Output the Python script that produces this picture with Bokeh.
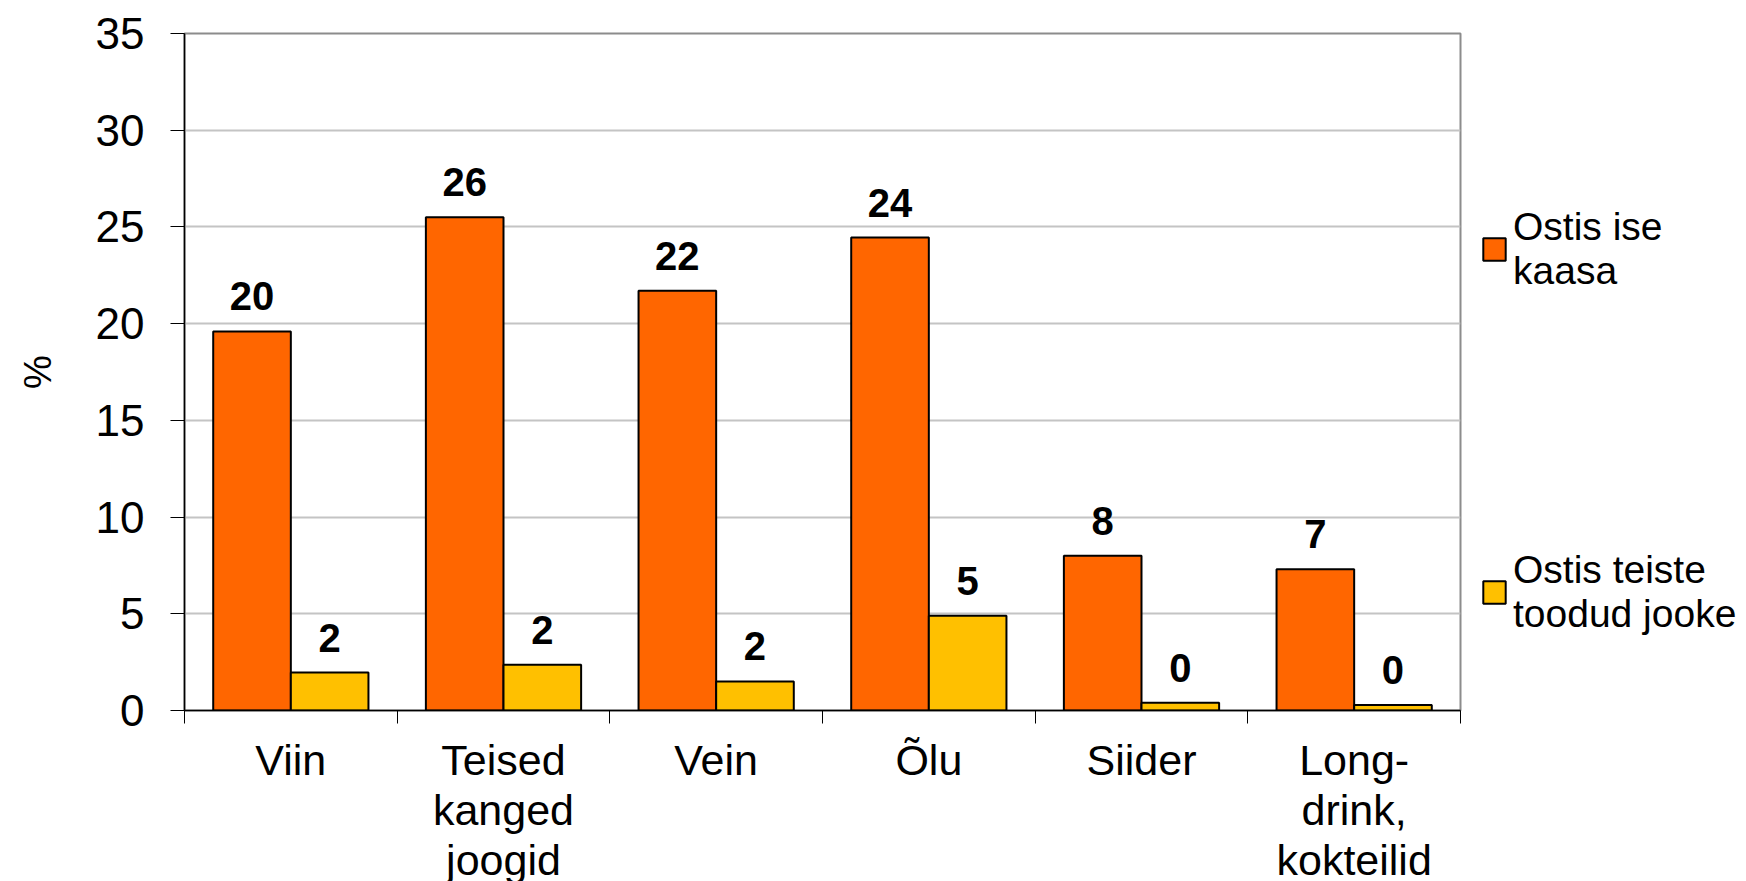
import numpy as np
from bokeh.plotting import figure
from bokeh.models import (ColumnDataSource, Range1d, LinearAxis, FixedTicker,
                          Legend, LegendItem, LabelSet)
from bokeh.core.properties import value
from bokeh.embed import file_html
from bokeh.resources import INLINE

categories = ["Viin", "Teised\nkanged\njoogid", "Vein", "Õlu", "Siider", "Long-\ndrink,\nkokteilid"]
series_names = ["Ostis ise\nkaasa", "Ostis teiste\ntoodud jooke"]
ostis_ise = [19.6, 25.5, 21.7, 24.45, 8.0, 7.3]
ostis_teiste = [1.96, 2.36, 1.5, 4.9, 0.4, 0.29]
y_ticks = [0, 5, 10, 15, 20, 25, 30, 35]

FONT = "Liberation Sans"
n = len(categories)
centers = np.arange(n) + 0.5
bw = 0.365

p = figure(frame_width=1276, frame_height=677, output_backend="svg",
           toolbar_location=None, x_range=Range1d(0, n), y_range=Range1d(0, 35),
           min_border_left=184, min_border_top=33, min_border_right=270,
           min_border_bottom=163, x_axis_type=None)
p.background_fill_color = "white"
p.border_fill_color = "white"
p.outline_line_color = "#8c8c8c"
p.outline_line_width = 2

src1 = ColumnDataSource(dict(x=centers - bw / 2, top=ostis_ise,
                             lab=[str(int(round(v))) for v in ostis_ise]))
src2 = ColumnDataSource(dict(x=centers + bw / 2, top=ostis_teiste,
                             lab=[str(int(round(v))) for v in ostis_teiste]))
r1 = p.vbar(x="x", top="top", bottom=0, width=bw, source=src1,
            fill_color="#FF6600", line_color="black", line_width=2)
r2 = p.vbar(x="x", top="top", bottom=0, width=bw, source=src2,
            fill_color="#FFC000", line_color="black", line_width=2)

for s in (src1, src2):
    p.add_layout(LabelSet(x="x", y="top", text="lab", source=s,
                          text_font=value(FONT), text_font_size="40px",
                          text_font_style="bold", text_align="center",
                          text_color="black",
                          text_baseline="alphabetic", y_offset=21))

# y axis
ya = p.yaxis[0]
ya.ticker = FixedTicker(ticks=y_ticks)
ya.axis_label = "%"
ya.axis_label_text_font = FONT
ya.axis_label_text_font_size = "38px"
ya.axis_label_text_font_style = "normal"
ya.axis_label_text_color = "black"
ya.axis_label_standoff = 34
ya.major_label_text_font = FONT
ya.major_label_text_font_size = "44px"
ya.major_label_text_color = "black"
ya.major_label_standoff = 26
ya.major_tick_out = 14
ya.major_tick_in = 0
ya.minor_tick_out = 0
ya.minor_tick_in = 0
ya.axis_line_color = "black"
ya.axis_line_width = 1.5
ya.major_tick_line_color = "black"

p.ygrid.ticker = FixedTicker(ticks=y_ticks)
p.ygrid.grid_line_color = "#c4c4c4"
p.ygrid.grid_line_width = 2
p.xgrid.grid_line_color = None

# x axis: labels at category centres, minor ticks at category boundaries
xa = LinearAxis(ticker=FixedTicker(ticks=list(centers),
                                   minor_ticks=list(range(n + 1))))
xa.major_label_overrides = {float(c): lab for c, lab in zip(centers, categories)}
xa.major_label_text_font = FONT
xa.major_label_text_font_size = "43px"
xa.major_label_text_color = "black"
xa.major_label_text_line_height = 1.05
xa.major_label_standoff = 12
xa.major_tick_out = 0
xa.major_tick_in = 0
xa.minor_tick_out = 13
xa.minor_tick_in = 0
xa.minor_tick_line_color = "black"
xa.axis_line_color = "black"
xa.axis_line_width = 1.5
p.add_layout(xa, "below")

legend = Legend(items=[LegendItem(label=series_names[0], renderers=[r1]),
                       LegendItem(label=series_names[1], renderers=[r2])],
                location=(20, 74), orientation="vertical",
                label_text_font=FONT, label_text_font_size="39px",
                label_text_color="black",
                label_text_line_height=1.15,
                glyph_width=28, glyph_height=28, label_standoff=5,
                spacing=255, padding=0, margin=0,
                border_line_color=None, background_fill_alpha=0)
p.add_layout(legend, "right")

open("out.html", "w").write(file_html(p, INLINE))
